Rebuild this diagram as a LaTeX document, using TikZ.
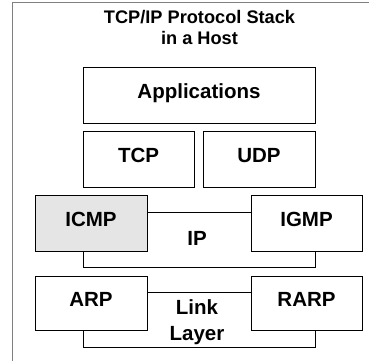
\documentclass[tikz,border=0pt]{standalone}
\usepackage{fontspec}
\setmainfont{Liberation Sans}[BoldFont={Liberation Sans Bold}]
\newfontfamily\boldsans{Liberation Sans Bold}
\begin{document}
\begin{tikzpicture}[x=1pt,y=-1pt,
  layerbox/.style={draw=black,line width=0.9pt,inner sep=0pt,
    font=\boldsans\fontsize{20.5}{24}\selectfont,
    text height=0.72em,text depth=0pt},
  outline/.style={draw=black,line width=0.9pt},
  lbl/.style={inner sep=0pt,font=\boldsans\fontsize{20.5}{25.5}\selectfont,align=center}]
\useasboundingbox (0,0) rectangle (369,361);
% outer frame
\draw[gray,line width=1pt] (12,361) -- (12,3) -- (369,3);
% title
\node[inner sep=0pt,anchor=base,align=center,
  font=\boldsans\fontsize{18.2}{20.3}\selectfont] (title) at (199.5,44.3)
  {TCP/IP Protocol Stack\\in a Host};
% boxes
\node[layerbox,minimum width=232pt,minimum height=56pt] (app) at (199,95) {Applications};
\node[layerbox,minimum width=111pt,minimum height=56pt] (tcp) at (138.5,159) {TCP};
\node[layerbox,minimum width=112pt,minimum height=56pt] (udp) at (259,159) {UDP};
\node[layerbox,fill=gray!20,minimum width=112pt,minimum height=56pt] (icmp) at (91,223) {ICMP};
\node[layerbox,minimum width=111pt,minimum height=56pt] (igmp) at (306.5,223) {IGMP};
\node[layerbox,minimum width=112pt,minimum height=54pt] (arp) at (91,303) {ARP};
\node[layerbox,minimum width=111pt,minimum height=54pt] (rarp) at (306.5,303) {RARP};
% IP outline
\draw[outline] (icmp.east |- 0,212) -- (igmp.west |- 0,212);
\draw[outline] (83,0 |- icmp.south) -- (83,267) -- (315,267) -- (315,0 |- igmp.south);
\node[lbl,text height=0.72em,text depth=0pt] (ip) at (197,241.5) {IP};
% Link layer outline
\draw[outline] (arp.east |- 0,292) -- (rarp.west |- 0,292);
\draw[outline] (83,0 |- arp.south) -- (83,347) -- (315,347) -- (315,0 |- rarp.south);
\node[lbl,anchor=base] (link) at (197,340) {Link\\Layer};
\end{tikzpicture}
\end{document}
